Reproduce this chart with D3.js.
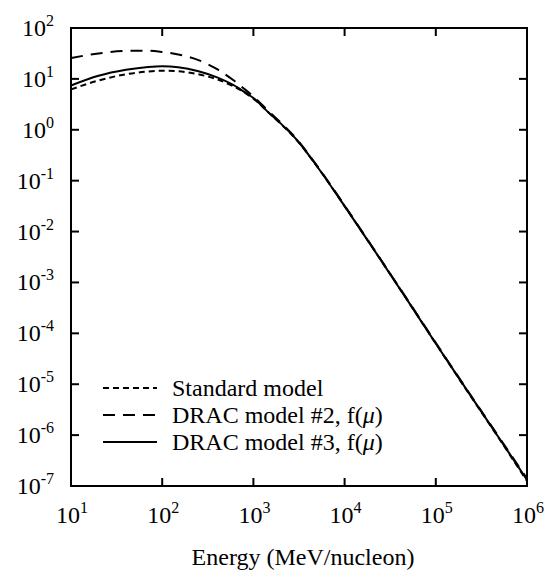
<!DOCTYPE html>
<html>
<head>
<meta charset="utf-8">
<script src="https://cdn.jsdelivr.net/npm/d3@7"></script>
<style>
  html, body { margin: 0; padding: 0; background: #fff; }
  svg { display: block; }
</style>
</head>
<body>
<svg id="chart" width="549" height="572" font-family="'Liberation Serif', Tinos, 'Times New Roman', Times, 'DejaVu Serif', serif"></svg>
<script>
// Kinetic energy grid (MeV/nucleon)
const energy = [10, 20, 40, 70, 100, 150, 250, 400, 600, 800, 1000, 1500, 2000, 3000, 5000,
                1e4, 2e4, 5e4, 1e5, 2e5, 5e5, 1e6];

// Flux for each propagation model on the energy grid
const standardModel = [6.2, 9.3, 12.3, 14.0, 14.5, 14.1, 12.3, 9.8, 7.2, 5.4, 4.1, 2.1, 1.3, 0.62,
                       0.19, 0.0316, 5.0e-3, 4.2e-4, 6.3e-5, 9.6e-6, 8.3e-7, 1.25e-7];
const dracModel2 = [25.7, 31.6, 35.5, 35.9, 33.9, 30.2, 23.4, 15.5, 9.5, 6.3, 4.5, 2.24, 1.38, 0.65,
                    0.195, 0.0325, 5.1e-3, 4.3e-4, 6.5e-5, 1.0e-5, 8.8e-7, 1.4e-7];
const dracModel3 = [7.4, 11.5, 15.1, 17.2, 17.8, 17.0, 14.1, 10.7, 7.6, 5.5, 4.2, 2.1, 1.32, 0.63,
                    0.19, 0.0316, 5.0e-3, 4.2e-4, 6.3e-5, 9.8e-6, 8.5e-7, 1.32e-7];

const seriesNames = ["Standard model", "DRAC model #2, f(", "DRAC model #3, f("];
const seriesValues = [standardModel, dracModel2, dracModel3];
const seriesDash = ["6,4", "12,8", null];

const xTicks = [1e1, 1e2, 1e3, 1e4, 1e5, 1e6];
const yTicks = [1e-7, 1e-6, 1e-5, 1e-4, 1e-3, 1e-2, 1e-1, 1e0, 1e1, 1e2];
const xTitle = "Energy (MeV/nucleon)";

const svg = d3.select("#chart");
const frame = { left: 71, right: 527, top: 28, bottom: 486 };

const x = d3.scaleLog().domain([1e1, 1e6]).range([frame.left, frame.right]);
const y = d3.scaleLog().domain([1e-7, 1e2]).range([frame.bottom, frame.top]);

const fontSize = 24;
const supSize = 16;
const tickLen = 8;

// Tick marks on all four sides, pointing inward
const g = svg.append("g").attr("stroke", "#000").attr("stroke-width", 2);
g.selectAll("line.xb").data(xTicks).join("line")
  .attr("x1", d => x(d)).attr("x2", d => x(d))
  .attr("y1", frame.bottom).attr("y2", frame.bottom - tickLen);
g.selectAll("line.xt").data(xTicks).join("line")
  .attr("x1", d => x(d)).attr("x2", d => x(d))
  .attr("y1", frame.top).attr("y2", frame.top + tickLen);
g.selectAll("line.yl").data(yTicks).join("line")
  .attr("x1", frame.left).attr("x2", frame.left + tickLen)
  .attr("y1", d => y(d)).attr("y2", d => y(d));
g.selectAll("line.yr").data(yTicks).join("line")
  .attr("x1", frame.right).attr("x2", frame.right - tickLen)
  .attr("y1", d => y(d)).attr("y2", d => y(d));

// Frame
svg.append("rect")
  .attr("x", frame.left).attr("y", frame.top)
  .attr("width", frame.right - frame.left).attr("height", frame.bottom - frame.top)
  .attr("fill", "none").attr("stroke", "#000").attr("stroke-width", 2);

// Power-of-ten label: "10" with a raised exponent
function powLabel(sel, exp) {
  sel.append("tspan").text("10");
  sel.append("tspan").attr("dy", -10).attr("font-size", supSize).text(exp);
}

// Y tick labels
yTicks.forEach(v => {
  const t = svg.append("text")
    .attr("x", 54).attr("y", y(v) + 8)
    .attr("text-anchor", "end")
    .attr("font-size", fontSize);
  powLabel(t, Math.round(Math.log10(v)));
});

// X tick labels
xTicks.forEach(v => {
  const t = svg.append("text")
    .attr("x", x(v) + 1).attr("y", 523)
    .attr("text-anchor", "middle")
    .attr("font-size", fontSize);
  powLabel(t, Math.round(Math.log10(v)));
});

// X axis title
svg.append("text")
  .attr("x", (frame.left + frame.right) / 2 + 4).attr("y", 565)
  .attr("text-anchor", "middle")
  .attr("font-size", fontSize)
  .text(xTitle);

// Curves, interpolated smoothly in log-log space
const line = d3.line()
  .x(d => x(d[0]))
  .y(d => y(d[1]))
  .curve(d3.curveMonotoneX);

const plot = svg.append("g");
seriesValues.forEach((vals, i) => {
  plot.append("path")
    .datum(energy.map((e, k) => [e, vals[k]]))
    .attr("d", line)
    .attr("fill", "none")
    .attr("stroke", "#000")
    .attr("stroke-width", 2)
    .attr("stroke-dasharray", seriesDash[i]);
});

// Legend
const legendRows = [388, 415, 442];
seriesNames.forEach((name, i) => {
  svg.append("line")
    .attr("x1", 103).attr("x2", 157)
    .attr("y1", legendRows[i]).attr("y2", legendRows[i])
    .attr("stroke", "#000").attr("stroke-width", 2)
    .attr("stroke-dasharray", seriesDash[i]);
  const t = svg.append("text")
    .attr("x", 172).attr("y", legendRows[i] + 8)
    .attr("font-size", fontSize);
  t.append("tspan").text(name);
  if (i > 0) {
    t.append("tspan").attr("font-style", "italic").text("\u03bc");
    t.append("tspan").text(")");
  }
});
</script>
</body>
</html>
